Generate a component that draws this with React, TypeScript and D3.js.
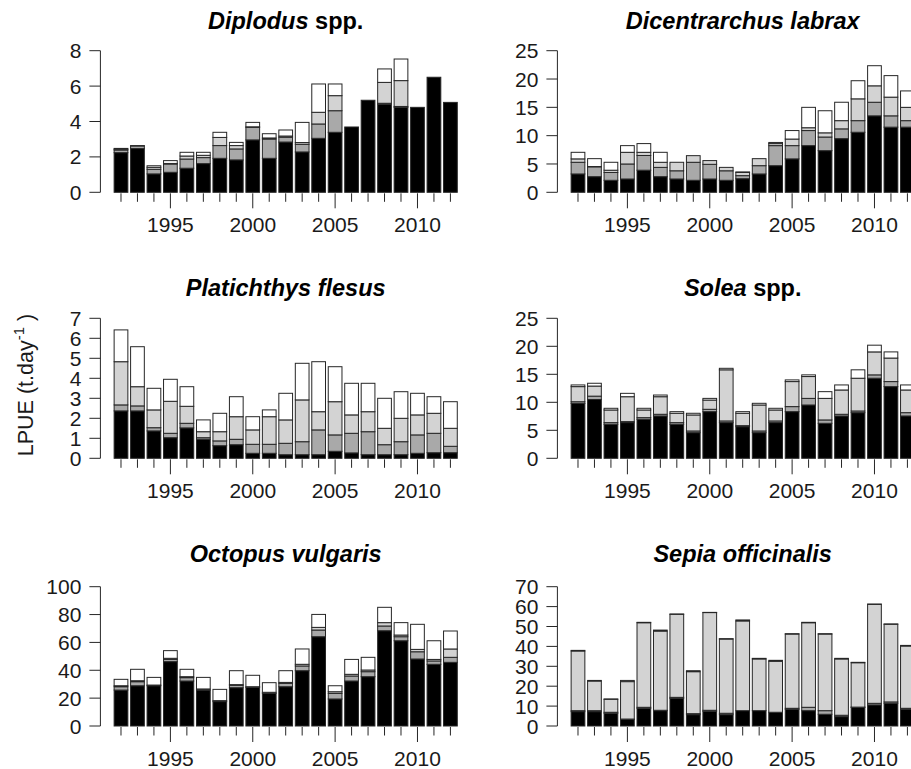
import React from "react";
import * as d3 from "d3";

const years = [1992, 1993, 1994, 1995, 1996, 1997, 1998, 1999, 2000, 2001, 2002, 2003, 2004, 2005, 2006, 2007, 2008, 2009, 2010, 2011, 2012];
const labeledYears = [1995, 2000, 2005, 2010];

// Diplodus spp.
const diplodusS1 = [2.24, 2.47, 1.04, 1.13, 1.36, 1.62, 1.92, 1.83, 2.96, 1.92, 2.84, 2.28, 3.05, 3.39, 3.69, 5.2, 4.98, 4.8, 4.8, 6.5, 5.08];
const diplodusS2 = [0.15, 0.15, 0.26, 0.47, 0.52, 0.34, 0.72, 0.62, 0.71, 1.09, 0.27, 0.43, 0.81, 1.22, 0, 0, 0.05, 0.05, 0, 0, 0];
const diplodusS3 = [0.05, 0.02, 0.11, 0.03, 0.17, 0.13, 0.46, 0.19, 0.03, 0.06, 0.07, 0.1, 0.66, 0.85, 0, 0, 1.18, 1.46, 0, 0, 0];
const diplodusS4 = [0.04, 0, 0.09, 0.16, 0.21, 0.17, 0.29, 0.18, 0.25, 0.24, 0.34, 1.14, 1.6, 0.66, 0, 0, 0.76, 1.22, 0, 0, 0];

// Dicentrarchus labrax
const labraxS1 = [3.24, 2.76, 2.12, 2.35, 3.9, 2.76, 2.35, 2.12, 2.35, 2.12, 2.4, 3.24, 4.7, 5.9, 8.24, 7.35, 9.47, 10.6, 13.5, 11.5, 11.5];
const labraxS2 = [2.06, 1.74, 1.38, 2.65, 2.6, 1.64, 1.45, 3.18, 2.59, 1.68, 0.54, 1.46, 3.54, 2.34, 2.66, 2.41, 1.73, 2.05, 2.4, 2.0, 1.15];
const labraxS3 = [0.6, 0.05, 0.4, 2.06, 0.56, 0.9, 1.5, 1.17, 0.66, 0.6, 0.56, 1.24, 0.36, 1.16, 0.5, 0.74, 1.45, 3.85, 2.9, 3.3, 2.35];
const labraxS4 = [1.16, 1.39, 1.4, 1.18, 1.54, 1.76, 0, 0, 0, 0, 0.1, 0, 0.2, 1.5, 3.6, 3.9, 3.25, 3.2, 3.55, 3.8, 2.9];

// Platichthys flesus
const flesusS1 = [2.37, 2.37, 1.37, 1.03, 1.52, 0.95, 0.63, 0.68, 0.25, 0.25, 0.18, 0.18, 0.18, 0.35, 0.27, 0.18, 0.18, 0.18, 0.25, 0.28, 0.28];
const flesusS2 = [0.3, 0.25, 0.16, 0.22, 0.23, 0.08, 0.24, 0.27, 0.45, 0.45, 0.57, 0.65, 1.24, 0.82, 0.98, 1.15, 0.5, 0.65, 0.92, 0.97, 0.32];
const flesusS3 = [2.16, 0.96, 0.89, 1.6, 0.85, 0.3, 0.46, 1.13, 0.72, 1.38, 1.17, 2.09, 0.91, 1.66, 0.92, 1.0, 0.82, 1.17, 1.0, 1.0, 0.9];
const flesusS4 = [1.59, 2.0, 1.08, 1.1, 0.98, 0.59, 0.92, 1.0, 0.66, 0.34, 1.33, 1.83, 2.5, 1.75, 1.58, 1.42, 1.5, 1.33, 1.08, 0.83, 1.33];

// Solea spp.
const soleaS1 = [9.8, 10.5, 6.07, 6.37, 6.96, 7.56, 6.07, 4.58, 8.33, 6.37, 5.65, 4.58, 6.37, 8.33, 9.52, 6.25, 7.56, 8.15, 14.3, 12.8, 7.56];
const soleaS2 = [0.3, 0.6, 0.3, 0.18, 0.3, 0.3, 0.3, 0.3, 0.42, 0.3, 0.18, 0.3, 0.3, 0.9, 1.18, 0.6, 0.3, 0.3, 0.6, 0.9, 0.59];
const soleaS3 = [2.7, 1.8, 2.26, 4.45, 1.37, 3.14, 1.67, 2.86, 1.65, 9.13, 2.21, 4.64, 1.96, 4.47, 3.9, 3.85, 4.34, 5.85, 4.1, 4.2, 4.05];
const soleaS4 = [0.3, 0.5, 0.3, 0.6, 0.3, 0.3, 0.29, 0.3, 0.3, 0.27, 0.29, 0.3, 0.3, 0.3, 0.3, 1.2, 0.9, 1.5, 1.2, 1.1, 0.9];

// Octopus vulgaris
const octopusS1 = [25.8, 28.9, 28.9, 46.2, 32.3, 25.8, 17.5, 27.5, 27.8, 23.4, 28.2, 39.7, 64.1, 19.4, 32.3, 35.4, 68.4, 61.2, 48.1, 44.3, 45.7];
const octopusS2 = [2.4, 2.9, 0.5, 1.6, 2.4, 0.8, 0.7, 1.7, 0.4, 0.8, 2.4, 3.4, 4.8, 4.0, 3.6, 3.6, 3.4, 2.9, 5.2, 2.4, 3.6];
const octopusS3 = [0.7, 0.7, 0, 0.8, 0.7, 0, 0, 0.5, 0, 0, 0.7, 1.2, 1.9, 1.2, 1.2, 1.2, 2.4, 1.2, 1.7, 1.1, 6.0];
const octopusS4 = [4.6, 8.2, 5.5, 5.5, 5.3, 8.3, 8.1, 10, 8.2, 6.9, 8.4, 11, 9.3, 4.3, 10.7, 9.1, 11, 8.9, 18, 13.4, 12.9];

// Sepia officinalis
const sepiaS1 = [7.2, 7.2, 6.4, 3.35, 8.9, 7.7, 13.9, 5.7, 7.4, 5.7, 7.7, 7.7, 6.9, 8.4, 7.7, 5.9, 4.7, 9.4, 10.6, 11.4, 8.4];
const sepiaS2 = [0.5, 0.5, 0.5, 0.15, 0.5, 0.2, 0.5, 0.5, 0.5, 0.7, 0, 0, 0, 0.5, 1.7, 1.8, 0.7, 0.1, 0.8, 0.7, 0.5];
const sepiaS3 = [30, 14.9, 6.5, 18.8, 42.5, 39.8, 41.7, 21.1, 49.1, 37.3, 45.1, 26, 25.6, 37.3, 42.5, 38.5, 28.3, 22.3, 49.7, 39, 31.3];
const sepiaS4 = [0.3, 0.3, 0.2, 0.6, 0.2, 0.5, 0.2, 0.5, 0.1, 0.2, 0.5, 0.3, 0.5, 0.2, 0.2, 0.2, 0.3, 0.2, 0.2, 0.2, 0.3];

type Panel = {
  italic: string;
  plain: string;
  series: number[][];
  yMax: number;
  yStep: number;
  col: number;
  row: number;
};

const panels: Panel[] = [
  { italic: "Diplodus", plain: " spp.", series: [diplodusS1, diplodusS2, diplodusS3, diplodusS4], yMax: 8, yStep: 2, col: 0, row: 0 },
  { italic: "Dicentrarchus labrax", plain: "", series: [labraxS1, labraxS2, labraxS3, labraxS4], yMax: 25, yStep: 5, col: 1, row: 0 },
  { italic: "Platichthys flesus", plain: "", series: [flesusS1, flesusS2, flesusS3, flesusS4], yMax: 7, yStep: 1, col: 0, row: 1 },
  { italic: "Solea", plain: " spp.", series: [soleaS1, soleaS2, soleaS3, soleaS4], yMax: 25, yStep: 5, col: 1, row: 1 },
  { italic: "Octopus vulgaris", plain: "", series: [octopusS1, octopusS2, octopusS3, octopusS4], yMax: 100, yStep: 20, col: 0, row: 2 },
  { italic: "Sepia officinalis", plain: "", series: [sepiaS1, sepiaS2, sepiaS3, sepiaS4], yMax: 70, yStep: 10, col: 1, row: 2 },
];

const FILLS = ["#000000", "#a9a9a9", "#d3d3d3", "#ffffff"];
const FONT = "'Liberation Sans', Arial, Helvetica, sans-serif";
const ROW_Y0 = [192.3, 458.3, 726];
const ROW_YTOP = [50.7, 318.3, 586.7];
const TITLE_BASE = [29, 296, 562];
const COL_DX = [0, 457];
const W = 911;
const H = 769;

function PanelView({ p }: { p: Panel }) {
  const dx = COL_DX[p.col];
  const y0 = ROW_Y0[p.row];
  const yTop = ROW_YTOP[p.row];
  // R barplot coordinates: bars of width 1 with space 0.2
  const x = d3.scaleLinear().domain([-0.8, 26.2]).range([100.4 + dx, 471 + dx]);
  const y = d3.scaleLinear().domain([0, p.yMax]).range([y0, yTop]);
  const rows = years.map((yr, i) => ({ year: yr, s0: p.series[0][i], s1: p.series[1][i], s2: p.series[2][i], s3: p.series[3][i] }));
  const stack = d3.stack<any>().keys(["s0", "s1", "s2", "s3"]);
  const layers = stack(rows);
  const yTicks = d3.range(0, p.yMax + p.yStep / 2, p.yStep);
  const center = (i: number) => x(0.7 + 1.2 * i);
  const axisX = x(-0.8);
  const cx = (x(-0.8) + x(26.2)) / 2;
  return (
    <g>
      <text x={cx} y={TITLE_BASE[p.row]} textAnchor="middle" fontFamily={FONT} fontWeight="bold" fontSize={23.5} fill="#000">
        <tspan fontStyle="italic">{p.italic}</tspan>
        {p.plain ? <tspan>{p.plain}</tspan> : null}
      </text>
      {layers.map((layer, k) => (
        <g key={k}>
          {layer.map((d, i) => {
            const h = y(d[0]) - y(d[1]);
            return (
              <rect
                key={i}
                x={x(0.2 + 1.2 * i)}
                y={y(d[1])}
                width={x(1) - x(0)}
                height={Math.max(0, h)}
                fill={FILLS[k]}
                stroke="#262626"
                strokeWidth={1}
              />
            );
          })}
        </g>
      ))}
      <line x1={axisX} x2={axisX} y1={y(0)} y2={y(p.yMax)} stroke="#262626" strokeWidth={1} />
      {yTicks.map((t) => (
        <g key={t}>
          <line x1={axisX - 11} x2={axisX} y1={y(t)} y2={y(t)} stroke="#262626" strokeWidth={1} />
          <text x={axisX - 19} y={y(t)} dy="0.36em" textAnchor="end" fontFamily={FONT} fontSize={21} fill="#1a1a1a">
            {t}
          </text>
        </g>
      ))}
      {years.map((yr, i) => {
        const long = labeledYears.indexOf(yr) >= 0;
        return (
          <line key={yr} x1={center(i)} x2={center(i)} y1={y0 + 1} y2={y0 + (long ? 16 : 9.5)} stroke="#262626" strokeWidth={1} />
        );
      })}
      {labeledYears.map((yr) => {
        const i = years.indexOf(yr);
        return (
          <text key={yr} x={center(i)} y={y0 + 39.5} textAnchor="middle" fontFamily={FONT} fontSize={21} fill="#1a1a1a">
            {yr}
          </text>
        );
      })}
    </g>
  );
}

export default function App() {
  return (
    <svg width={W} height={H} viewBox={`0 0 ${W} ${H}`} style={{ position: "absolute", left: 0, top: 0, background: "#fff" }}>
      <rect x={0} y={0} width={W} height={H} fill="#fff" />
      {panels.map((p, i) => (
        <PanelView key={i} p={p} />
      ))}
      <text transform="translate(33,385) rotate(-90)" textAnchor="middle" fontFamily={FONT} fontSize={21.5} fill="#1a1a1a">
        LPUE (t.day
        <tspan fontSize={15} dy={-9}>-1</tspan>
        <tspan dy={9}> )</tspan>
      </text>
    </svg>
  );
}
